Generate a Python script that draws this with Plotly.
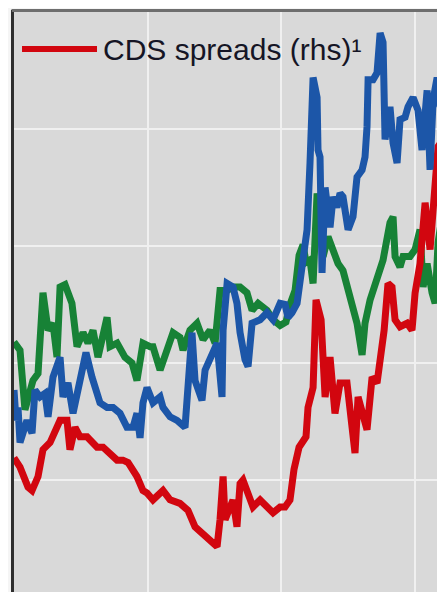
import plotly.graph_objects as go

# Time axis in years from the left edge of the visible window (gridlines yearly)
x_blue = [0.000, 0.015, 0.030, 0.045, 0.097, 0.135, 0.157, 0.195, 0.232, 0.255,
          0.292, 0.345, 0.367, 0.404, 0.442, 0.494, 0.539, 0.584, 0.644, 0.697,
          0.742, 0.794, 0.846, 0.891, 0.921, 0.944, 0.966, 0.996, 1.041, 1.094,
          1.116, 1.169, 1.221, 1.281, 1.303, 1.333, 1.356, 1.408, 1.431, 1.483,
          1.521, 1.558, 1.566, 1.596, 1.640, 1.670, 1.693, 1.730, 1.753, 1.783,
          1.843, 1.895, 1.940, 1.993, 2.030, 2.052, 2.082, 2.120, 2.157, 2.195,
          2.217, 2.232, 2.240, 2.270, 2.277, 2.292, 2.307, 2.330, 2.367, 2.390,
          2.419, 2.442, 2.464, 2.502, 2.539, 2.569, 2.607, 2.629, 2.644, 2.652,
          2.689, 2.719, 2.742, 2.764, 2.779, 2.816, 2.839, 2.869, 2.891, 2.929,
          2.951, 2.989, 3.026, 3.056, 3.094, 3.116, 3.139, 3.169, 3.191, 3.213,
          3.236]
y_blue = [1.77, 1.51, 1.62, 1.32, 1.51, 1.40, 1.77, 1.71, 1.74, 1.54,
          1.88, 2.05, 1.71, 1.83, 1.57, 1.85, 2.09, 1.88, 1.66, 1.62,
          1.62, 1.57, 1.45, 1.45, 1.57, 1.36, 1.66, 1.79, 1.66, 1.71,
          1.62, 1.54, 1.51, 1.45, 1.88, 2.26, 1.85, 1.68, 1.94, 2.09,
          2.17, 1.71, 2.28, 2.68, 2.65, 2.51, 2.26, 2.03, 1.97, 2.34,
          2.37, 2.43, 2.37, 2.51, 2.50, 2.39, 2.43, 2.51, 2.85, 3.14,
          3.71, 4.27, 4.44, 4.27, 3.82, 3.76, 2.77, 3.50, 3.16, 3.42,
          3.33, 3.45, 3.42, 3.14, 3.25, 3.59, 3.65, 3.76, 4.02, 4.42,
          4.42, 4.48, 4.82, 4.74, 3.91, 4.19, 3.88, 3.71, 4.08, 4.10,
          4.19, 4.27, 4.16, 3.82, 4.33, 3.65, 4.25, 4.44, 4.19, 4.50,
          4.63]

x_green = [0.000, 0.022, 0.045, 0.082, 0.142, 0.180, 0.217, 0.255, 0.292, 0.322,
           0.345, 0.382, 0.434, 0.472, 0.517, 0.554, 0.592, 0.629, 0.697, 0.719,
           0.772, 0.831, 0.884, 0.921, 0.944, 0.966, 1.019, 1.041, 1.094, 1.146,
           1.191, 1.243, 1.266, 1.318, 1.371, 1.416, 1.468, 1.506, 1.543, 1.596,
           1.640, 1.693, 1.745, 1.783, 1.828, 1.895, 1.940, 1.993, 2.037, 2.067,
           2.105, 2.135, 2.165, 2.187, 2.217, 2.240, 2.270, 2.292, 2.315, 2.352,
           2.390, 2.427, 2.464, 2.502, 2.539, 2.569, 2.607, 2.629, 2.667, 2.719,
           2.764, 2.816, 2.839, 2.854, 2.891, 2.914, 2.966, 3.004, 3.041, 3.064,
           3.094, 3.131, 3.154, 3.176, 3.206, 3.236]
y_green = [2.18, 2.15, 2.11, 1.60, 1.85, 1.91, 2.60, 2.28, 2.34, 2.05,
           2.65, 2.67, 2.51, 2.14, 2.26, 2.17, 2.28, 2.05, 2.39, 2.14,
           2.17, 2.05, 2.00, 1.85, 2.00, 2.17, 2.14, 2.14, 1.94, 2.11,
           2.26, 2.22, 2.11, 2.28, 2.34, 2.20, 2.28, 2.17, 2.62, 2.62,
           2.65, 2.65, 2.60, 2.45, 2.51, 2.45, 2.37, 2.32, 2.35, 2.50,
           2.62, 2.92, 3.01, 2.86, 2.88, 2.68, 3.45, 3.20, 2.91, 3.08,
           2.97, 2.85, 2.79, 2.62, 2.51, 2.34, 2.07, 2.34, 2.54, 2.74,
           2.88, 3.20, 3.25, 2.91, 2.82, 2.91, 2.91, 2.97, 3.14, 2.65,
           2.85, 2.60, 2.51, 3.03, 3.25, 3.33]

x_red = [0.000, 0.045, 0.105, 0.135, 0.180, 0.217, 0.270, 0.307, 0.345, 0.397,
         0.419, 0.457, 0.494, 0.547, 0.622, 0.667, 0.719, 0.772, 0.816, 0.854,
         0.921, 0.966, 0.996, 1.041, 1.116, 1.169, 1.243, 1.303, 1.356, 1.408,
         1.468, 1.521, 1.543, 1.566, 1.581, 1.618, 1.640, 1.670, 1.693, 1.715,
         1.745, 1.790, 1.843, 1.895, 1.940, 1.993, 2.030, 2.067, 2.097, 2.135,
         2.187, 2.202, 2.240, 2.262, 2.300, 2.330, 2.367, 2.404, 2.442, 2.494,
         2.554, 2.577, 2.644, 2.682, 2.719, 2.772, 2.801, 2.831, 2.854, 2.891,
         2.944, 2.981, 3.004, 3.041, 3.079, 3.116, 3.154, 3.176, 3.213, 3.236]
y_red = [1.19, 1.11, 0.94, 0.91, 1.03, 1.26, 1.32, 1.43, 1.51, 1.51,
         1.26, 1.45, 1.37, 1.37, 1.28, 1.28, 1.23, 1.17, 1.17, 1.15,
         1.03, 0.91, 0.89, 0.83, 0.91, 0.83, 0.80, 0.74, 0.60, 0.55,
         0.49, 0.43, 0.66, 1.03, 0.66, 0.77, 0.83, 0.60, 0.97, 1.00,
         0.89, 0.77, 0.83, 0.77, 0.72, 0.77, 0.77, 0.83, 1.09, 1.28,
         1.37, 1.62, 1.79, 2.54, 2.37, 1.71, 2.05, 1.57, 1.83, 1.83,
         1.23, 1.71, 1.43, 1.88, 1.83, 2.28, 2.68, 2.65, 2.37, 2.31,
         2.34, 2.28, 2.60, 2.85, 3.37, 2.97, 3.45, 3.85, 3.91, 3.91]

legend_label = "CDS spreads (rhs)\u00b9"

BLUE = "#1c56a8"
GREEN = "#178236"
RED = "#d2060f"

fig = go.Figure()
fig.add_trace(go.Scatter(x=x_green, y=y_green, mode="lines",
                         line=dict(color=GREEN, width=7), name="green"))
fig.add_trace(go.Scatter(x=x_red, y=y_red, mode="lines",
                         line=dict(color=RED, width=7), name=legend_label))
fig.add_trace(go.Scatter(x=x_blue, y=y_blue, mode="lines",
                         line=dict(color=BLUE, width=7), name="blue"))

# the page body has an 8px default margin, so the figure is offset by it
fig.update_layout(
    width=437, height=584,
    margin=dict(l=6, r=0, t=4, b=0, pad=0),
    paper_bgcolor="#f5f5f5",
    plot_bgcolor="#d9d9d9",
    showlegend=False,
    xaxis=dict(range=[0, 3.228], dtick=1, tick0=0, showgrid=True,
               gridcolor="#f0f0f0", gridwidth=2, showticklabels=False,
               zeroline=False, showline=False, ticks=""),
    yaxis=dict(range=[0.043, 5], dtick=1, tick0=0, showgrid=True,
               gridcolor="#f0f0f0", gridwidth=2, showticklabels=False,
               zeroline=False, showline=False, ticks=""),
    shapes=[
        dict(type="line", xref="paper", yref="paper", x0=-0.0035, x1=-0.0035,
             y0=0, y1=1.004, line=dict(color="#2e2e2e", width=3)),
        dict(type="line", xref="paper", yref="paper", x0=-0.005, x1=1,
             y0=1.0025, y1=1.0025, line=dict(color="#6e6e6e", width=3)),
        dict(type="line", xref="paper", yref="paper", x0=0.0186, x1=0.1926,
             y0=0.936, y1=0.936, line=dict(color=RED, width=6)),
    ],
    annotations=[
        dict(text=legend_label, xref="paper", yref="paper", x=0.2019, y=0.936,
             xanchor="left", yanchor="middle", showarrow=False,
             font=dict(family="Liberation Sans, Arial", size=30, color="#151525")),
    ],
)

fig.write_html("out.html")
